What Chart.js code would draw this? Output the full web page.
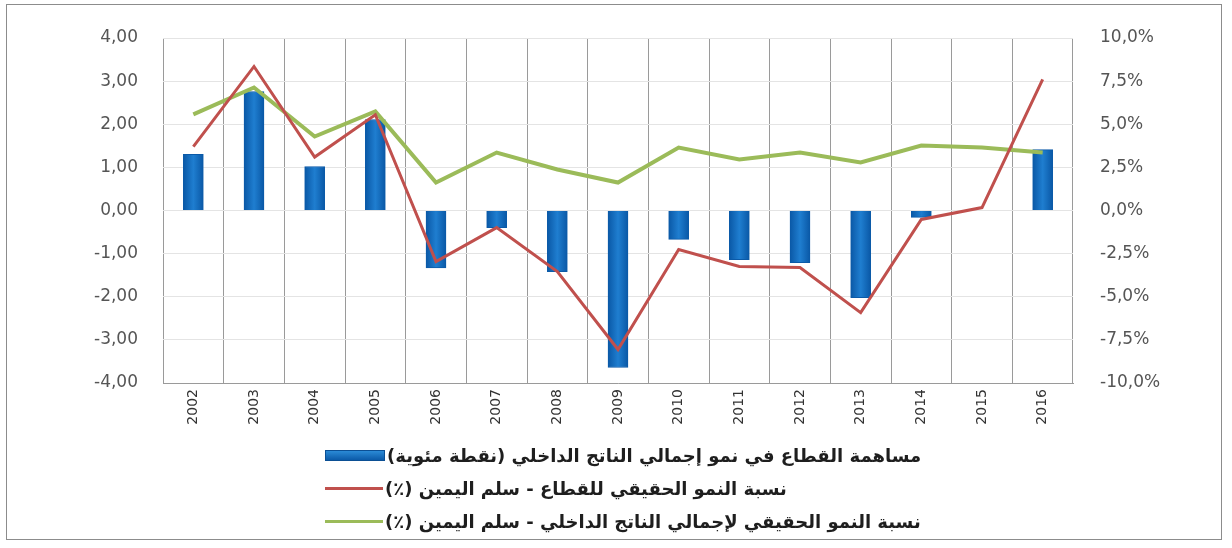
<!DOCTYPE html>
<html>
<head>
<meta charset="utf-8">
<script src="https://cdn.jsdelivr.net/npm/chart.js@4"></script>
<style>
  body { margin: 0; background: #fff; }
  .wrap { position: relative; width: 1232px; height: 548px; }
  .frame { position: absolute; left: 6px; top: 4px; width: 1216px; height: 536px; border: 1px solid #8c8c8c; box-sizing: border-box; pointer-events: none; }
  canvas { position: absolute; left: 0; top: 0; }
  .legend { position: absolute; left: 325px; top: 439px; font-family: "DejaVu Sans", sans-serif; font-weight: bold; font-size: 18px; color: #1e1e1e; }
  .legend .row { display: flex; align-items: center; height: 33px; }
  .legend .sym { width: 58px; margin-right: 2px; }
  .legend .bar { height: 9px; background: linear-gradient(#2b8ad6, #0b5aa8); border: 1px solid #0b4f94; }
  .legend .line { height: 3px; }
</style>
</head>
<body>
<div class="wrap">
  <canvas id="chart" width="1232" height="548"></canvas>
  <div class="frame"></div>
  <div class="legend" id="legend"></div>
</div>
<script>
const years = ["2002","2003","2004","2005","2006","2007","2008","2009","2010","2011","2012","2013","2014","2015","2016"];
// contribution of the sector to GDP growth (percentage points) - left axis
const contribution = [1.30, 2.76, 1.02, 2.11, -1.33, -0.40, -1.42, -3.64, -0.67, -1.14, -1.21, -2.02, -0.16, 0, 1.41];
// real growth of the sector (%) - right axis
const sectorGrowth = [3.7, 8.35, 3.1, 5.55, -2.96, -0.99, -3.54, -8.06, -2.26, -3.25, -3.31, -5.92, -0.52, 0.17, 7.6];
// real GDP growth (%) - right axis
const gdpGrowth = [5.57, 7.13, 4.29, 5.74, 1.62, 3.36, 2.38, 1.62, 3.65, 2.96, 3.36, 2.78, 3.77, 3.65, 3.36];

const labels = [
  "مساهمة القطاع في نمو إجمالي الناتج الداخلي (نقطة مئوية)",
  "نسبة النمو الحقيقي للقطاع - سلم اليمين (٪)",
  "نسبة النمو الحقيقي لإجمالي الناتج الداخلي - سلم اليمين (٪)"
];

const blue = "#1469be", red = "#c0504d", green = "#9bbb59";
const tickFont = { family: "DejaVu Sans", size: 17 };

// bar fill: darker edges, lighter middle
function barFill(ctx) {
  const chart = ctx.chart;
  if (!chart.chartArea || !chart.scales.x) return blue;
  const cx = chart.scales.x.getPixelForValue(ctx.dataIndex);
  const g = chart.ctx.createLinearGradient(cx - 10, 0, cx + 10, 0);
  g.addColorStop(0, "#0a58a6");
  g.addColorStop(0.5, "#1f7ed0");
  g.addColorStop(1, "#0a58a6");
  return g;
}

new Chart(document.getElementById("chart"), {
  type: "bar",
  data: {
    labels: years,
    datasets: [
      { type: "line", label: labels[2], data: gdpGrowth, yAxisID: "y1", borderColor: green, borderWidth: 4, pointRadius: 0, tension: 0, order: 1 },
      { type: "line", label: labels[1], data: sectorGrowth, yAxisID: "y1", borderColor: red, borderWidth: 3, pointRadius: 0, tension: 0, order: 0 },
      { type: "bar", label: labels[0], data: contribution, yAxisID: "y", backgroundColor: barFill, borderColor: "#0b5aa8", borderWidth: 1, barThickness: 20, order: 2 }
    ]
  },
  options: {
    responsive: false,
    animation: false,
    layout: { padding: { top: 38, bottom: 120, left: 0, right: 0 } },
    plugins: { legend: { display: false }, tooltip: { enabled: false } },
    scales: {
      x: {
        grid: { color: "#9a9a9a", offset: true, drawTicks: false },
        border: { color: "#9a9a9a" },
        ticks: { color: "#333", font: { family: "DejaVu Sans", size: 14 }, maxRotation: 90, minRotation: 90, padding: 6 },
        afterFit: s => { s.height = 45; }
      },
      y: {
        position: "left", min: -4, max: 4,
        grid: { color: "#e4e4e4", drawTicks: false },
        border: { display: false },
        ticks: { stepSize: 1, color: "#555", font: tickFont, padding: 25, callback: v => v.toFixed(2).replace(".", ",") },
        afterFit: s => { s.width = 163; }
      },
      y1: {
        position: "right", min: -10, max: 10,
        grid: { drawOnChartArea: false, drawTicks: false },
        border: { display: false },
        ticks: { stepSize: 2.5, color: "#555", font: tickFont, padding: 27, callback: v => v.toFixed(1).replace(".", ",") + "%" },
        afterFit: s => { s.width = 159; }
      }
    }
  }
});

// legend, one entry per row as in the original
const legend = document.getElementById("legend");
[[labels[0], "bar", blue], [labels[1], "line", red], [labels[2], "line", green]].forEach(([text, kind, color]) => {
  const row = document.createElement("div");
  row.className = "row";
  const sym = document.createElement("div");
  sym.className = "sym " + kind;
  if (kind === "line") sym.style.background = color;
  const span = document.createElement("span");
  span.dir = "rtl";
  span.textContent = text;
  row.appendChild(sym);
  row.appendChild(span);
  legend.appendChild(row);
});
</script>
</body>
</html>
